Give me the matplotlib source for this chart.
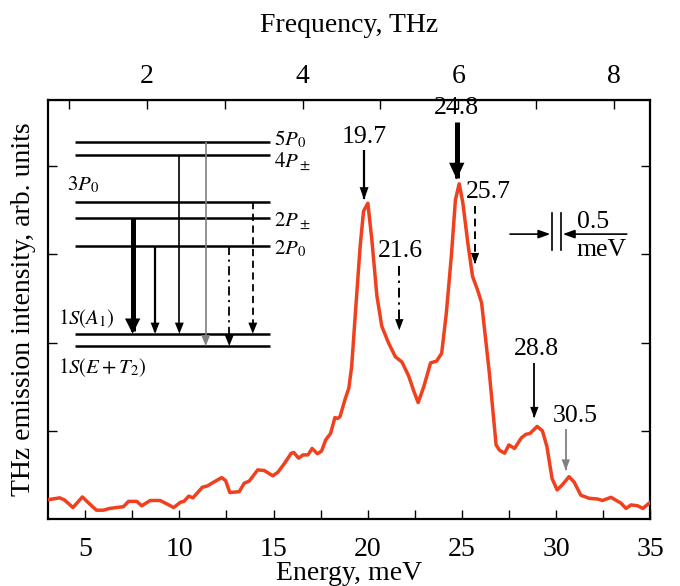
import matplotlib
matplotlib.use('Agg')
import matplotlib.pyplot as plt

plt.rcParams['font.family'] = ['Liberation Serif', 'DejaVu Serif']
plt.rcParams['mathtext.fontset'] = 'stix'

# spectrum: energy (meV), intensity (arb. units)
energy = [3.07, 3.65, 3.9, 4.35, 4.85, 5.24, 5.6, 5.96, 6.3, 7.03, 7.3, 7.74, 8.0,
          8.45, 8.98, 9.35, 9.7, 10.06, 10.24, 10.5, 10.72, 11.22, 11.49, 11.84,
          12.25, 12.46, 12.68, 13.18, 13.44, 13.71, 14.16, 14.51, 14.96, 15.23,
          15.58, 15.94, 16.08, 16.33, 16.57, 16.83, 17.05, 17.33, 17.55, 17.78,
          18.03, 18.26, 18.4, 18.53, 18.79, 19.0, 19.15, 19.33, 19.6, 19.78,
          20.01, 20.22, 20.49, 20.75, 21.11, 21.47, 21.82, 22.18, 22.45, 22.68,
          22.98, 23.34, 23.66, 23.93, 24.18, 24.45, 24.66, 24.86, 25.05, 25.33,
          25.57, 25.83, 26.05, 26.46, 26.82, 27.0, 27.27, 27.5, 27.8, 28.16,
          28.4, 28.62, 29.0, 29.28, 29.52, 29.79, 30.06, 30.33, 30.69, 30.96,
          31.32, 31.76, 32.2, 32.47, 32.92, 33.45, 33.72, 33.99, 34.34, 34.61, 35.06]
intensity = [0.22, 0.24, 0.216, 0.13, 0.25, 0.17, 0.10, 0.10, 0.12, 0.14, 0.20, 0.20, 0.15,
             0.21, 0.21, 0.17, 0.13, 0.19, 0.20, 0.26, 0.24, 0.36, 0.375, 0.42,
             0.47, 0.435, 0.30, 0.31, 0.405, 0.43, 0.557, 0.55, 0.49, 0.53,
             0.63, 0.746, 0.754, 0.69, 0.727, 0.727, 0.80, 0.74, 0.77, 0.90,
             0.97, 1.15, 1.14, 1.16, 1.35, 1.485, 1.73, 2.28, 3.09, 3.49,
             3.58, 3.17, 2.53, 2.185, 1.996, 1.84, 1.78, 1.62, 1.45, 1.32,
             1.50, 1.77, 1.79, 1.88, 2.34, 3.0, 3.62, 3.80, 3.59, 3.11,
             2.75, 2.60, 2.45, 1.66, 0.84, 0.78, 0.746, 0.84, 0.80, 0.92,
             0.96, 0.97, 1.05, 1.0, 0.82, 0.46, 0.33, 0.386, 0.48, 0.42,
             0.27, 0.235, 0.227, 0.21, 0.246, 0.18, 0.12, 0.16, 0.15, 0.12, 0.20]

# marked lines: label, arrow x (meV)
peak_labels = ['19.7', '24.8', '21.6', '25.7', '28.8', '30.5']
peak_x = [19.81, 24.73, 21.68, 25.70, 28.85, 30.52]

# level scheme (schematic)
level_names = ['5P0', '4Ppm', '3P0', '2Ppm', '2P0', '1SA1', '1SET2']
level_y = [4.27, 4.13, 3.59, 3.41, 3.095, 2.10, 1.96]

MEV_PER_THZ = 4.1357
RED = '#f0401e'
GRAY = '#808080'


def arrow(ax, x, y0, y1, lw=1.3, ls='-', color='k', hl=7.5, hw=3.0):
    # shaft drawn as a line (so dashes stay on the shaft), head drawn solid
    tip_gap = (y0 - y1) * 0.02
    ax.plot([x, x], [y0, y1 + tip_gap], color=color, lw=lw, ls=ls,
            solid_capstyle='butt', zorder=3)
    ax.annotate('', xy=(x, y1), xytext=(x, y1 + (y0 - y1) * 0.3),
                arrowprops=dict(arrowstyle='-|>,head_length=%g,head_width=%g' % (hl, hw),
                                mutation_scale=1, lw=0.01, color=color,
                                shrinkA=0, shrinkB=0), zorder=4)


fig = plt.figure(figsize=(6.8, 5.86), dpi=100)
ax = fig.add_axes([0.0699, 0.1143, 0.8862, 0.7150])

ax.plot(energy, intensity, color=RED, lw=2.5, zorder=5)

ax.set_xlim(3, 35)
ax.set_ylim(0, 4.75)
ax.set_xticks([5, 10, 15, 20, 25, 30, 35])
ax.set_xticks([7.5, 12.5, 17.5, 22.5, 27.5, 32.5], minor=True)
ax.set_yticks([1, 2, 3, 4])
ax.tick_params(which='both', direction='in', length=6.5, width=1.0,
               labelsize=20, right=True, pad=13)
ax.tick_params(axis='y', labelleft=False)
for s in ax.spines.values():
    s.set_linewidth(1.6)
ax.set_xlabel('Energy, meV', fontsize=20, labelpad=-1)
ax.set_ylabel('THz emission intensity, arb. units', fontsize=20, labelpad=8)

top = ax.secondary_xaxis('top', functions=(lambda e: e / MEV_PER_THZ,
                                           lambda f: f * MEV_PER_THZ))
top.set_xticks([2, 4, 6, 8])
top.set_xticks([1, 3, 5, 7], minor=True)
top.tick_params(which='both', direction='in', length=6.5, width=1.0,
                labelsize=20, pad=8)
top.set_xlabel('Frequency, THz', fontsize=20, labelpad=23)

# arrows at the peaks (labels placed on their baseline)
fs = 18.5
pk = dict(zip(peak_labels, peak_x))
lab = dict(ha='center', va='baseline', fontsize=fs)
arrow(ax, pk['19.7'], 4.18, 3.62, lw=1.6, hl=9, hw=3.2)
ax.text(pk['19.7'], 4.26, '19.7', **lab)
arrow(ax, pk['24.8'], 4.50, 3.85, lw=3.6, hl=12, hw=5.5)
ax.text(pk['24.8'], 4.59, '24.8', **lab)
arrow(ax, pk['25.7'], 3.55, 2.89, lw=1.4, ls=(0, (4, 2.5)), hl=8, hw=3.0)
ax.text(pk['25.7'] + 0.69, 3.64, '25.7', **lab)
arrow(ax, pk['21.6'], 2.87, 2.14, lw=1.4, ls=(0, (5, 2.5, 1.2, 2.5)), hl=8, hw=3.0)
ax.text(pk['21.6'] + 0.04, 2.97, '21.6', **lab)
arrow(ax, pk['28.8'], 1.77, 1.145, lw=1.3, hl=8, hw=3.0)
ax.text(pk['28.8'] + 0.13, 1.86, '28.8', **lab)
arrow(ax, pk['30.5'], 1.02, 0.55, lw=1.3, color=GRAY, hl=8, hw=3.0)
ax.text(pk['30.5'] + 0.49, 1.10, '30.5', **lab)

# 0.5 meV resolution marker
for xb in (29.78, 30.28):
    ax.plot([xb, xb], [3.05, 3.47], color='k', lw=1.2)
ax.annotate('', xy=(29.70, 3.23), xytext=(27.56, 3.23),
            arrowprops=dict(arrowstyle='-|>,head_length=7,head_width=2.5',
                            mutation_scale=1, lw=1.2, color='k', shrinkA=0, shrinkB=0))
ax.annotate('', xy=(30.36, 3.23), xytext=(33.76, 3.23),
            arrowprops=dict(arrowstyle='-|>,head_length=7,head_width=2.5',
                            mutation_scale=1, lw=1.2, color='k', shrinkA=0, shrinkB=0))
ax.text(31.97, 3.30, '0.5', **lab)
ax.text(32.43, 2.98, 'meV', **lab)

# level scheme
lv = dict(zip(level_names, level_y))
for y in level_y:
    ax.plot([4.46, 14.82], [y, y], color='k', lw=1.8, solid_capstyle='butt')
lfs = 15
ax.text(15.05, lv['5P0'] + 0.03, r'$5P_0$', ha='left', va='center', fontsize=lfs)
ax.text(15.05, lv['4Ppm'] - 0.07, r'$4P_\pm$', ha='left', va='center', fontsize=lfs)
ax.text(15.05, lv['2Ppm'] - 0.03, r'$2P_\pm$', ha='left', va='center', fontsize=lfs)
ax.text(15.05, lv['2P0'] - 0.03, r'$2P_0$', ha='left', va='center', fontsize=lfs)
ax.text(4.02, 3.79, r'$3P_0$', ha='left', va='center', fontsize=lfs)
ax.text(3.56, 2.27, r'$1S(A_1)$', ha='left', va='center', fontsize=lfs)
ax.text(3.56, 1.72, r'$1S(E+T_2)$', ha='left', va='center', fontsize=lfs)

arrow(ax, 7.52, lv['2Ppm'], lv['1SA1'], lw=3.6, hl=11, hw=5.5)
arrow(ax, 8.71, lv['2P0'], lv['1SA1'], lw=1.6, hl=8, hw=3.2)
arrow(ax, 10.0, lv['4Ppm'], lv['1SA1'], lw=1.2, hl=8, hw=3.2)
arrow(ax, 11.40, lv['5P0'], lv['1SET2'], lw=1.2, color=GRAY, hl=8, hw=3.2)
arrow(ax, 12.65, lv['2P0'], lv['1SET2'], lw=1.3, ls=(0, (5, 2.5, 1.2, 2.5)), hl=8, hw=3.2)
arrow(ax, 13.90, lv['3P0'], lv['1SA1'], lw=1.3, ls=(0, (4, 2.5)), hl=8, hw=3.2)

fig.savefig('out.png', dpi=100)
plt.close(fig)
